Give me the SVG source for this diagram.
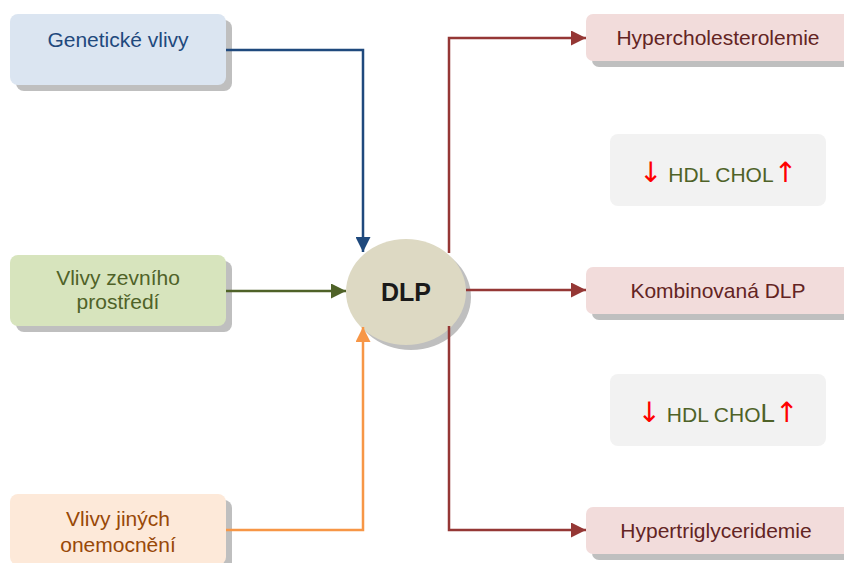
<svg xmlns="http://www.w3.org/2000/svg" width="844" height="563" viewBox="0 0 844 563">
<defs>
<style>
text{font-family:"Liberation Sans",Arial,sans-serif;font-size:21px;text-anchor:middle}
.sh{fill:#bfbfbf}
.ln{fill:none;stroke-width:2.5}
.red{fill:#ff0000;font-size:28px;font-family:"DejaVu Sans",sans-serif}
.hdl{fill:#4f6228;font-size:21px}
</style>
<marker id="ag" viewBox="0 0 10 10" refX="10" refY="5" markerWidth="16" markerHeight="15" markerUnits="userSpaceOnUse" orient="auto"><path d="M0,0L10,5L0,10z" fill="#4f6228"/></marker>
<marker id="ab" viewBox="0 0 10 10" refX="10" refY="5" markerWidth="16" markerHeight="15" markerUnits="userSpaceOnUse" orient="auto"><path d="M0,0L10,5L0,10z" fill="#1f497d"/></marker>
<marker id="ao" viewBox="0 0 10 10" refX="10" refY="5" markerWidth="16" markerHeight="15" markerUnits="userSpaceOnUse" orient="auto"><path d="M0,0L10,5L0,10z" fill="#f79646"/></marker>
<marker id="ar" viewBox="0 0 10 10" refX="10" refY="5" markerWidth="16" markerHeight="15" markerUnits="userSpaceOnUse" orient="auto"><path d="M0,0L10,5L0,10z" fill="#953735"/></marker>
</defs>
<rect width="844" height="563" fill="#ffffff"/>

<g id="genetic">
<rect class="sh" x="16" y="20" width="216" height="71" rx="8"/>
<rect x="10" y="14" width="216" height="71" rx="8" fill="#dbe5f1"/>
<text x="118" y="47" fill="#1f497d">Genetické vlivy</text>
</g>

<g id="environment">
<rect class="sh" x="16" y="261" width="216" height="71" rx="8"/>
<rect x="10" y="255" width="216" height="71" rx="8" fill="#d7e4bd"/>
<text x="118" y="285" fill="#4f6228">Vlivy zevního</text>
<text x="118" y="309" fill="#4f6228">prostředí</text>
</g>

<g id="other">
<rect class="sh" x="16" y="500" width="216" height="71" rx="8"/>
<rect x="10" y="494" width="216" height="71" rx="8" fill="#fde9d9"/>
<text x="118" y="526" fill="#984807">Vlivy jiných</text>
<text x="118" y="552" fill="#984807">onemocnění</text>
</g>

<g id="dlp">
<ellipse cx="411" cy="297" rx="60" ry="53" fill="#bfbfbf"/>
<ellipse cx="406" cy="292" rx="60" ry="53" fill="#ddd9c3"/>
<text x="406" y="301" style="font-size:25px;font-weight:bold" fill="#1a1a1a">DLP</text>
</g>

<g id="hyperchol">
<rect class="sh" x="592" y="20" width="270" height="47" rx="7"/>
<rect x="586" y="14" width="270" height="47" rx="7" fill="#f2dcdb"/>
<text x="718" y="45" fill="#632423">Hypercholesterolemie</text>
</g>

<g id="hdl1">
<rect x="610" y="134" width="216" height="72" rx="8" fill="#f2f2f2"/>
<text x="718" y="182"><tspan class="red">↓</tspan><tspan class="hdl"> HDL CHOL</tspan><tspan class="red">↑</tspan></text>
</g>

<g id="combined">
<rect class="sh" x="592" y="273" width="270" height="47" rx="7"/>
<rect x="586" y="267" width="270" height="47" rx="7" fill="#f2dcdb"/>
<text x="718" y="298" fill="#632423">Kombinovaná DLP</text>
</g>

<g id="hdl2">
<rect x="610" y="374" width="216" height="72" rx="8" fill="#f2f2f2"/>
<text x="718" y="422"><tspan class="red">↓</tspan><tspan class="hdl"> HDL CHO</tspan><tspan class="hdl" style="font-size:26px">L</tspan><tspan class="red">↑</tspan></text>
</g>

<g id="hypertrig">
<rect class="sh" x="592" y="513" width="270" height="47" rx="7"/>
<rect x="586" y="507" width="270" height="47" rx="7" fill="#f2dcdb"/>
<text x="716" y="538" fill="#632423">Hypertriglyceridemie</text>
</g>

<g id="connectors">
<path class="ln" d="M226,50H363V252" stroke="#1f497d" marker-end="url(#ab)"/>
<path class="ln" d="M226,291H346" stroke="#4f6228" marker-end="url(#ag)"/>
<path class="ln" d="M226,530H363V327" stroke="#f79646" marker-end="url(#ao)"/>
<path class="ln" d="M449,253V38H586" stroke="#953735" marker-end="url(#ar)"/>
<path class="ln" d="M466,290H586" stroke="#953735" marker-end="url(#ar)"/>
<path class="ln" d="M449,326V530H586" stroke="#953735" marker-end="url(#ar)"/>
</g>
</svg>
